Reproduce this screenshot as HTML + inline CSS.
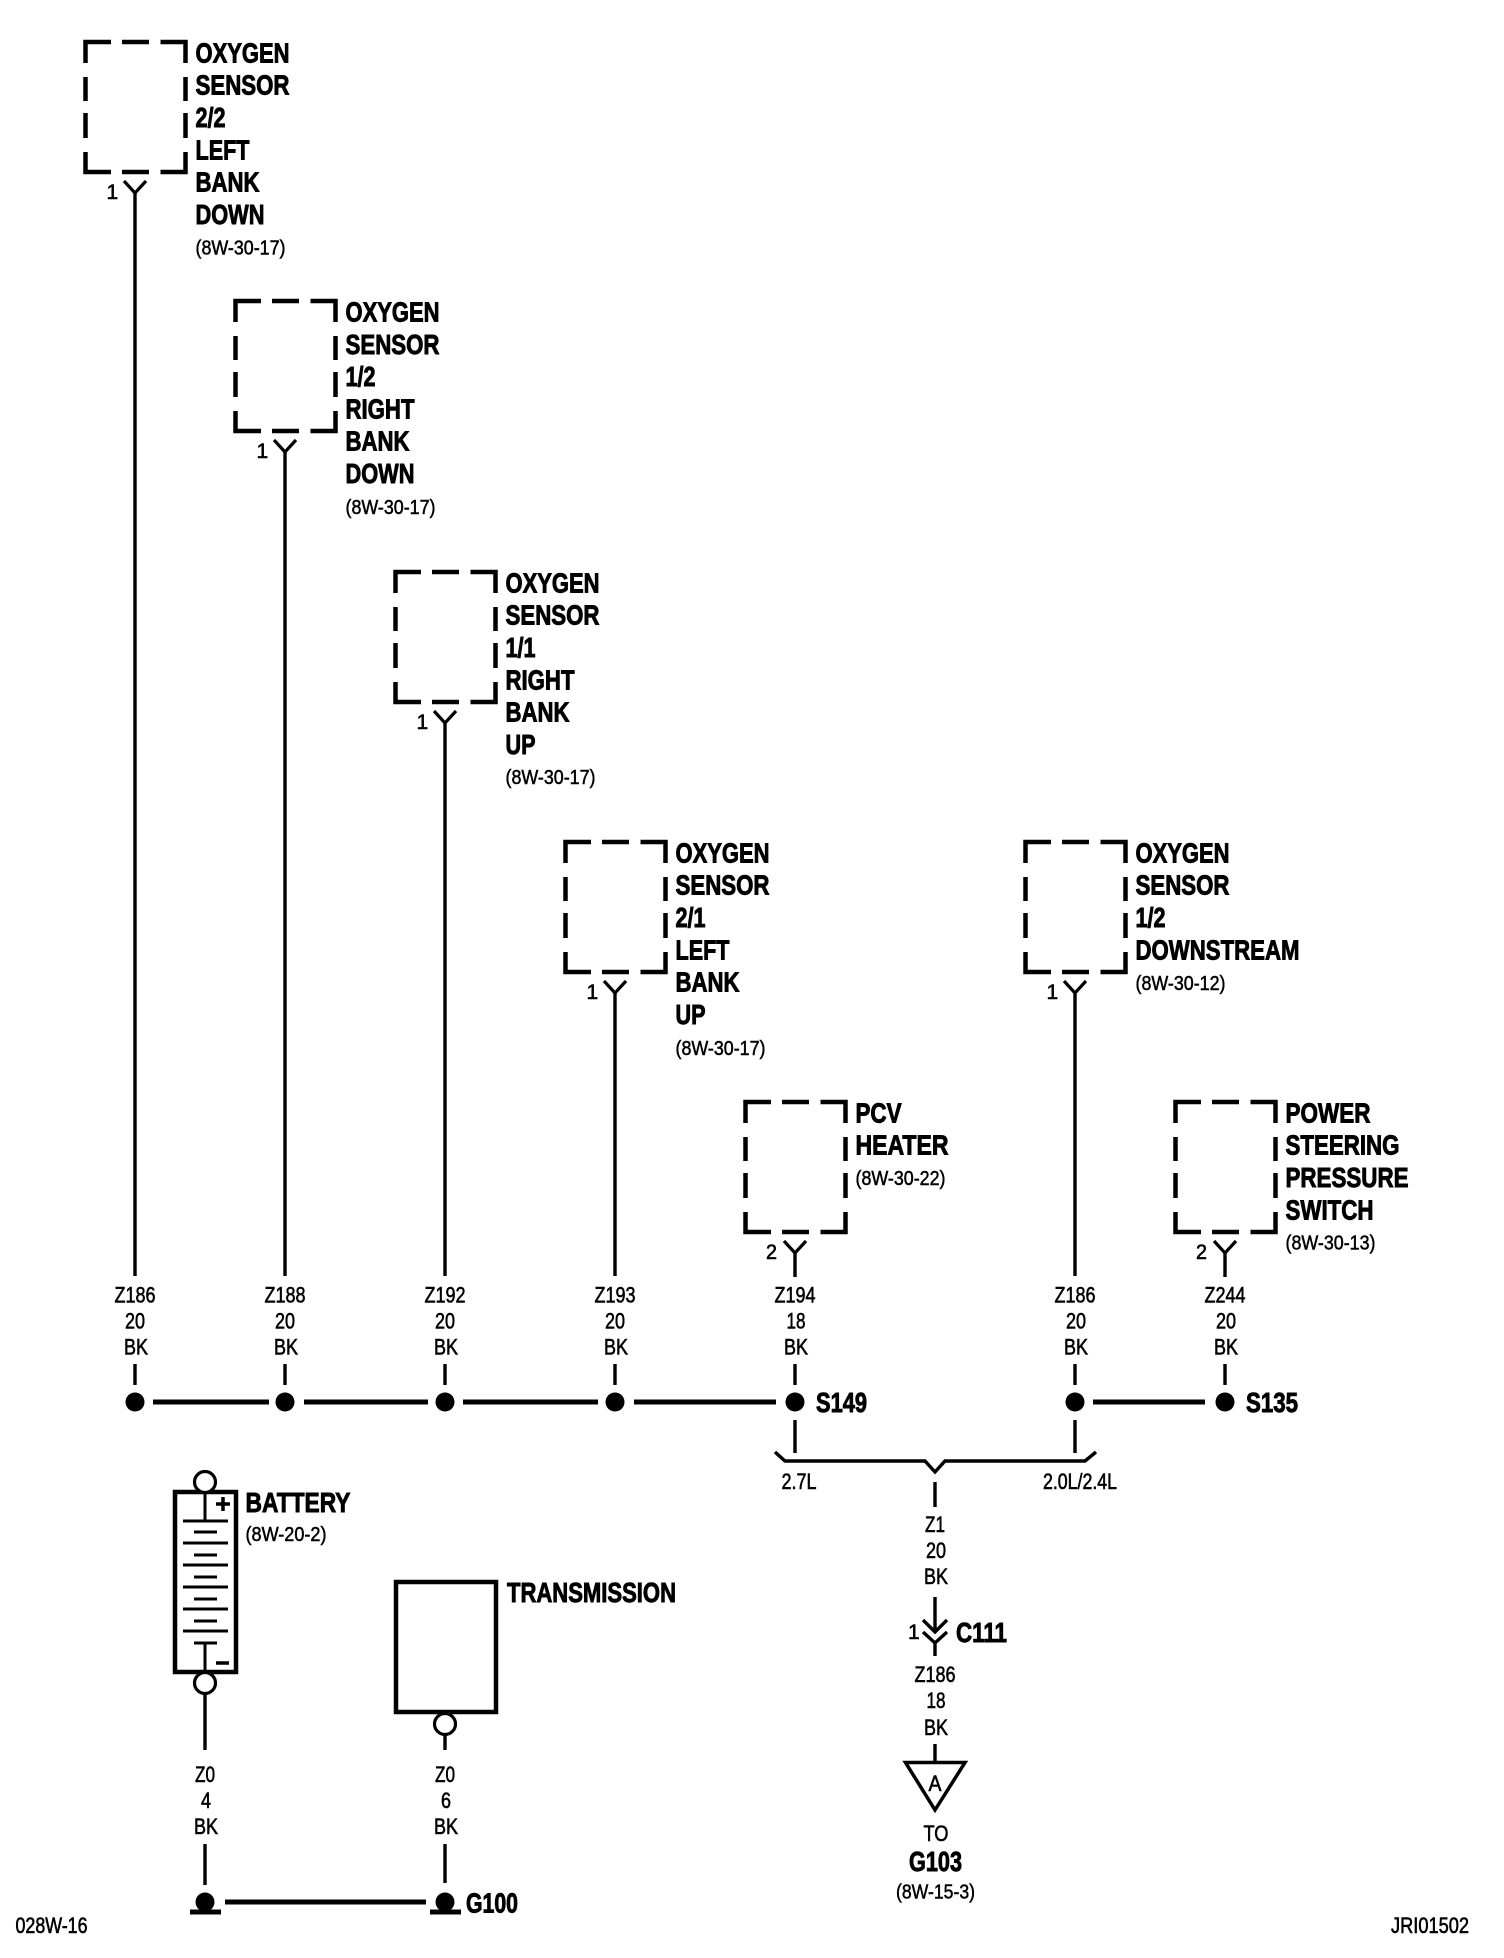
<!DOCTYPE html>
<html><head><meta charset="utf-8"><title>Ground distribution diagram</title>
<style>
html,body{margin:0;padding:0;background:#fff}
svg{display:block}
text{font-family:"Liberation Sans",sans-serif;fill:#000}
.b{font-weight:700;font-size:27.5px;stroke:#000;stroke-width:.9}
.r{font-size:22.5px;text-anchor:middle;stroke:#000;stroke-width:.6}
.p{font-size:20px;stroke:#000;stroke-width:.5}
.n{font-size:21px;stroke:#000;stroke-width:.6}
.f{font-size:22px;stroke:#000;stroke-width:.6}
</style></head><body>
<svg width="1504" height="1958" viewBox="0 0 1504 1958" xmlns="http://www.w3.org/2000/svg">
<defs>
<g id="box" fill="none" stroke="#000" stroke-width="4.5">
<path d="M0 21V0H25.5M36.5 0H63.5M75 0H100V21M100 35V59M100 71V96M100 110V130H75M63.5 130H36.5M25.5 130H0V110M0 96V71M0 59V35"/>
<path d="M38.5 139L49.5 151L60.5 139" stroke-width="3.2"/>
</g>
</defs>
<rect width="1504" height="1958" fill="#fff"/>
<g><use href="#box" x="85.5" y="42"/><use href="#box" x="235.5" y="301"/><use href="#box" x="395.5" y="572"/><use href="#box" x="565.5" y="842"/><use href="#box" x="1025.5" y="842"/><use href="#box" x="745.5" y="1102"/><use href="#box" x="1175.5" y="1102"/></g>

<!-- vertical wires -->
<g stroke="#000" stroke-width="3.4" fill="none">
<path d="M135 192V1276M285 451V1276M445 722V1276M615 992V1276M1075 992V1276M795 1252V1277M1225 1252V1277"/>
<path d="M135 1364V1385M285 1364V1385M445 1364V1385M615 1364V1385M795 1364V1385M1075 1364V1385M1225 1364V1385"/>
<path d="M795 1420V1453M1075 1420V1453"/>
<path d="M775 1452L785 1461H925L935 1472L945 1461H1085L1096 1452"/>
<path d="M935 1482V1507M935 1597V1632M923 1620L935 1632L947 1620M923 1632L935 1643L947 1632M935 1643V1656M935 1744V1762"/>
<path d="M905.5 1762.5H965L935 1810Z" stroke-width="3.5"/>
<path d="M205 1694V1750M445 1735V1750M205 1844V1885M445 1844V1883"/>
</g>
<!-- bus -->
<g stroke="#000" stroke-width="5" fill="none">
<path d="M153 1402H269M304 1402H428M463 1402H598M634 1402H776M1093 1402H1205M225 1902H426"/>
<path d="M190 1912H221M430 1912H461" stroke-width="5"/>
</g>
<g fill="#000">
<circle cx="135" cy="1402" r="9.5"/><circle cx="285" cy="1402" r="9.5"/><circle cx="445" cy="1402" r="9.5"/><circle cx="615" cy="1402" r="9.5"/><circle cx="795" cy="1402" r="9.5"/><circle cx="1075" cy="1402" r="9.5"/><circle cx="1225" cy="1402" r="9.5"/>
<circle cx="205" cy="1902" r="9.5"/><circle cx="445" cy="1902" r="9.5"/>
</g>

<!-- battery -->
<g fill="none" stroke="#000">
<rect x="175" y="1492" width="61" height="180" stroke-width="4.5" fill="#fff"/>
<circle cx="205" cy="1482" r="10.5" stroke-width="3.2" fill="#fff"/>
<circle cx="205" cy="1683" r="10.5" stroke-width="3.2" fill="#fff"/>
<path stroke-width="3" d="M205 1492V1521M183 1521H228M194 1532H217M183 1543H228M194 1555H217M183 1565H228M194 1577H217M183 1587H228M194 1599H217M183 1609H228M194 1621H217M183 1631H228M194 1643H217M205 1643V1672"/>
<path stroke-width="3.5" d="M216 1504H230M223 1497V1511M216 1663H229"/>
<!-- transmission -->
<rect x="396" y="1582" width="100" height="130" stroke-width="4.5" fill="#fff"/>
<circle cx="445" cy="1724" r="10.5" stroke-width="3.2" fill="#fff"/>
</g>

<!-- bold labels -->
<g>
<text class="b" x="195.5" y="62.5" textLength="94" lengthAdjust="spacingAndGlyphs">OXYGEN</text>
<text class="b" x="195.5" y="94.3" textLength="94" lengthAdjust="spacingAndGlyphs">SENSOR</text>
<text class="b" x="195.5" y="127" textLength="30" lengthAdjust="spacingAndGlyphs">2/2</text>
<text class="b" x="195.5" y="159.4" textLength="54" lengthAdjust="spacingAndGlyphs">LEFT</text>
<text class="b" x="195.5" y="191.7" textLength="64" lengthAdjust="spacingAndGlyphs">BANK</text>
<text class="b" x="195.5" y="224" textLength="69" lengthAdjust="spacingAndGlyphs">DOWN</text>

<text class="b" x="345.5" y="321.5" textLength="94" lengthAdjust="spacingAndGlyphs">OXYGEN</text>
<text class="b" x="345.5" y="353.8" textLength="94" lengthAdjust="spacingAndGlyphs">SENSOR</text>
<text class="b" x="345.5" y="386" textLength="30" lengthAdjust="spacingAndGlyphs">1/2</text>
<text class="b" x="345.5" y="418.4" textLength="69" lengthAdjust="spacingAndGlyphs">RIGHT</text>
<text class="b" x="345.5" y="450.7" textLength="64" lengthAdjust="spacingAndGlyphs">BANK</text>
<text class="b" x="345.5" y="483" textLength="69" lengthAdjust="spacingAndGlyphs">DOWN</text>

<text class="b" x="505.5" y="592.5" textLength="94" lengthAdjust="spacingAndGlyphs">OXYGEN</text>
<text class="b" x="505.5" y="624.3" textLength="94" lengthAdjust="spacingAndGlyphs">SENSOR</text>
<text class="b" x="505.5" y="657" textLength="30" lengthAdjust="spacingAndGlyphs">1/1</text>
<text class="b" x="505.5" y="689.4" textLength="69" lengthAdjust="spacingAndGlyphs">RIGHT</text>
<text class="b" x="505.5" y="721.7" textLength="64" lengthAdjust="spacingAndGlyphs">BANK</text>
<text class="b" x="505.5" y="754" textLength="30" lengthAdjust="spacingAndGlyphs">UP</text>

<text class="b" x="675.5" y="862.5" textLength="94" lengthAdjust="spacingAndGlyphs">OXYGEN</text>
<text class="b" x="675.5" y="894.3" textLength="94" lengthAdjust="spacingAndGlyphs">SENSOR</text>
<text class="b" x="675.5" y="927" textLength="30" lengthAdjust="spacingAndGlyphs">2/1</text>
<text class="b" x="675.5" y="959.4" textLength="54" lengthAdjust="spacingAndGlyphs">LEFT</text>
<text class="b" x="675.5" y="991.7" textLength="64" lengthAdjust="spacingAndGlyphs">BANK</text>
<text class="b" x="675.5" y="1024" textLength="30" lengthAdjust="spacingAndGlyphs">UP</text>

<text class="b" x="1135.5" y="862.5" textLength="94" lengthAdjust="spacingAndGlyphs">OXYGEN</text>
<text class="b" x="1135.5" y="894.3" textLength="94" lengthAdjust="spacingAndGlyphs">SENSOR</text>
<text class="b" x="1135.5" y="927" textLength="30" lengthAdjust="spacingAndGlyphs">1/2</text>
<text class="b" x="1135.5" y="959.4" textLength="164" lengthAdjust="spacingAndGlyphs">DOWNSTREAM</text>

<text class="b" x="855.5" y="1122.5" textLength="46" lengthAdjust="spacingAndGlyphs">PCV</text>
<text class="b" x="855.5" y="1154.3" textLength="93" lengthAdjust="spacingAndGlyphs">HEATER</text>

<text class="b" x="1285.5" y="1122.5" textLength="85" lengthAdjust="spacingAndGlyphs">POWER</text>
<text class="b" x="1285.5" y="1154.3" textLength="114" lengthAdjust="spacingAndGlyphs">STEERING</text>
<text class="b" x="1285.5" y="1187" textLength="123" lengthAdjust="spacingAndGlyphs">PRESSURE</text>
<text class="b" x="1285.5" y="1219.4" textLength="88" lengthAdjust="spacingAndGlyphs">SWITCH</text>

<text class="b" x="816" y="1412" textLength="51" lengthAdjust="spacingAndGlyphs">S149</text>
<text class="b" x="1246" y="1412" textLength="52" lengthAdjust="spacingAndGlyphs">S135</text>
<text class="b" x="245.5" y="1512" textLength="105" lengthAdjust="spacingAndGlyphs">BATTERY</text>
<text class="b" x="507" y="1602" textLength="169" lengthAdjust="spacingAndGlyphs">TRANSMISSION</text>
<text class="b" x="956" y="1642" textLength="51" lengthAdjust="spacingAndGlyphs">C111</text>
<text class="b" x="909" y="1871" textLength="53" lengthAdjust="spacingAndGlyphs">G103</text>
<text class="b" x="466" y="1912.5" textLength="52" lengthAdjust="spacingAndGlyphs">G100</text>
</g>

<!-- references -->
<g>
<text class="p" x="195.5" y="254.5" textLength="90" lengthAdjust="spacingAndGlyphs">(8W-30-17)</text>
<text class="p" x="345.5" y="514" textLength="90" lengthAdjust="spacingAndGlyphs">(8W-30-17)</text>
<text class="p" x="505.5" y="784" textLength="90" lengthAdjust="spacingAndGlyphs">(8W-30-17)</text>
<text class="p" x="675.5" y="1055" textLength="90" lengthAdjust="spacingAndGlyphs">(8W-30-17)</text>
<text class="p" x="1135.5" y="990" textLength="90" lengthAdjust="spacingAndGlyphs">(8W-30-12)</text>
<text class="p" x="855.5" y="1185" textLength="90" lengthAdjust="spacingAndGlyphs">(8W-30-22)</text>
<text class="p" x="1285.5" y="1249.5" textLength="90" lengthAdjust="spacingAndGlyphs">(8W-30-13)</text>
<text class="p" x="245.5" y="1541" textLength="81" lengthAdjust="spacingAndGlyphs">(8W-20-2)</text>
<text class="p" x="896" y="1898.5" textLength="79" lengthAdjust="spacingAndGlyphs">(8W-15-3)</text>
</g>

<!-- pins -->
<g>
<text class="n" x="106.5" y="199">1</text>
<text class="n" x="256.5" y="458">1</text>
<text class="n" x="416.5" y="729">1</text>
<text class="n" x="586.5" y="999">1</text>
<text class="n" x="1046.5" y="999">1</text>
<text class="n" x="766" y="1259" textLength="11" lengthAdjust="spacingAndGlyphs">2</text>
<text class="n" x="1196" y="1259" textLength="11" lengthAdjust="spacingAndGlyphs">2</text>
<text class="n" x="908" y="1639">1</text>
</g>

<!-- wire labels -->
<g>
<text class="r" x="135" y="1302.5" textLength="41" lengthAdjust="spacingAndGlyphs">Z186</text><text class="r" x="135" y="1328.5" textLength="20" lengthAdjust="spacingAndGlyphs">20</text><text class="r" x="136" y="1354.5" textLength="24" lengthAdjust="spacingAndGlyphs">BK</text>
<text class="r" x="285" y="1302.5" textLength="41" lengthAdjust="spacingAndGlyphs">Z188</text><text class="r" x="285" y="1328.5" textLength="20" lengthAdjust="spacingAndGlyphs">20</text><text class="r" x="286" y="1354.5" textLength="24" lengthAdjust="spacingAndGlyphs">BK</text>
<text class="r" x="445" y="1302.5" textLength="41" lengthAdjust="spacingAndGlyphs">Z192</text><text class="r" x="445" y="1328.5" textLength="20" lengthAdjust="spacingAndGlyphs">20</text><text class="r" x="446" y="1354.5" textLength="24" lengthAdjust="spacingAndGlyphs">BK</text>
<text class="r" x="615" y="1302.5" textLength="41" lengthAdjust="spacingAndGlyphs">Z193</text><text class="r" x="615" y="1328.5" textLength="20" lengthAdjust="spacingAndGlyphs">20</text><text class="r" x="616" y="1354.5" textLength="24" lengthAdjust="spacingAndGlyphs">BK</text>
<text class="r" x="795" y="1302.5" textLength="41" lengthAdjust="spacingAndGlyphs">Z194</text><text class="r" x="796" y="1328.5" textLength="19" lengthAdjust="spacingAndGlyphs">18</text><text class="r" x="796" y="1354.5" textLength="24" lengthAdjust="spacingAndGlyphs">BK</text>
<text class="r" x="1075" y="1302.5" textLength="41" lengthAdjust="spacingAndGlyphs">Z186</text><text class="r" x="1076" y="1328.5" textLength="20" lengthAdjust="spacingAndGlyphs">20</text><text class="r" x="1076" y="1354.5" textLength="24" lengthAdjust="spacingAndGlyphs">BK</text>
<text class="r" x="1225" y="1302.5" textLength="41" lengthAdjust="spacingAndGlyphs">Z244</text><text class="r" x="1226" y="1328.5" textLength="20" lengthAdjust="spacingAndGlyphs">20</text><text class="r" x="1226" y="1354.5" textLength="24" lengthAdjust="spacingAndGlyphs">BK</text>

<text class="r" x="799" y="1489" textLength="35" lengthAdjust="spacingAndGlyphs">2.7L</text>
<text class="r" x="1080" y="1489" textLength="74" lengthAdjust="spacingAndGlyphs">2.0L/2.4L</text>

<text class="r" x="935" y="1532" textLength="20" lengthAdjust="spacingAndGlyphs">Z1</text><text class="r" x="936" y="1558" textLength="20" lengthAdjust="spacingAndGlyphs">20</text><text class="r" x="936" y="1584" textLength="24" lengthAdjust="spacingAndGlyphs">BK</text>
<text class="r" x="935" y="1682" textLength="41" lengthAdjust="spacingAndGlyphs">Z186</text><text class="r" x="936" y="1708" textLength="19" lengthAdjust="spacingAndGlyphs">18</text><text class="r" x="936" y="1735" textLength="24" lengthAdjust="spacingAndGlyphs">BK</text>
<text class="r" x="935" y="1791" textLength="13" lengthAdjust="spacingAndGlyphs">A</text>
<text class="r" x="936" y="1841" textLength="25" lengthAdjust="spacingAndGlyphs">TO</text>

<text class="r" x="205" y="1782" textLength="20" lengthAdjust="spacingAndGlyphs">Z0</text><text class="r" x="206" y="1808" textLength="10" lengthAdjust="spacingAndGlyphs">4</text><text class="r" x="206" y="1834" textLength="24" lengthAdjust="spacingAndGlyphs">BK</text>
<text class="r" x="445" y="1782" textLength="20" lengthAdjust="spacingAndGlyphs">Z0</text><text class="r" x="446" y="1808" textLength="10" lengthAdjust="spacingAndGlyphs">6</text><text class="r" x="446" y="1834" textLength="24" lengthAdjust="spacingAndGlyphs">BK</text>

<text class="f" x="15.5" y="1933" textLength="72" lengthAdjust="spacingAndGlyphs">028W-16</text>
<text class="f" x="1391" y="1933" textLength="78" lengthAdjust="spacingAndGlyphs">JRI01502</text>
</g>
</svg>
</body></html>
